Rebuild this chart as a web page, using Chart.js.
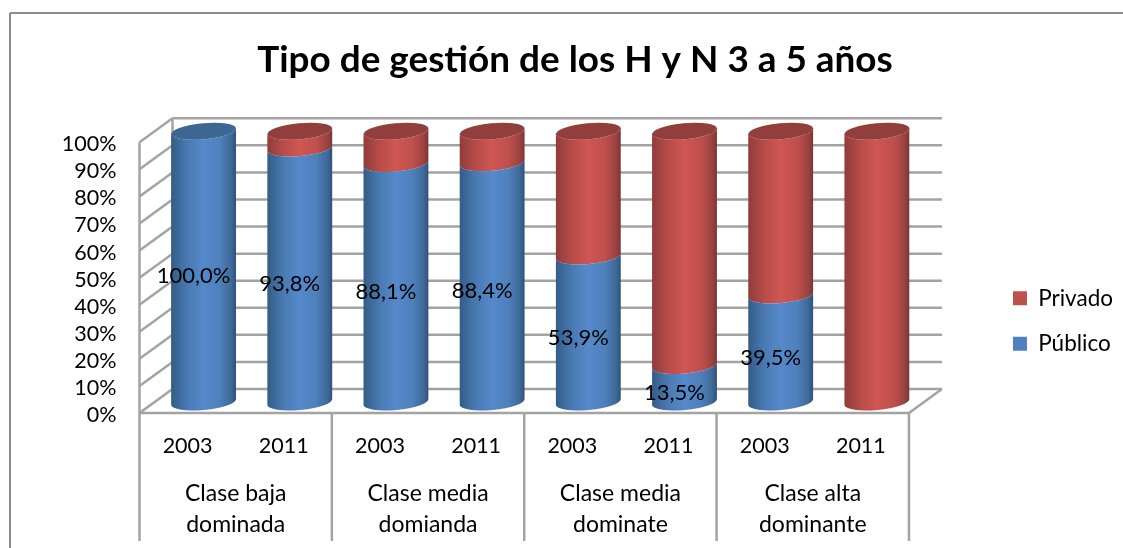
<!DOCTYPE html>
<html>
<head>
<meta charset="utf-8">
<title>Tipo de gestión</title>
<script src="https://cdn.jsdelivr.net/npm/chart.js@4/dist/chart.umd.js"></script>
<style>
  html, body { margin: 0; background: #fff; }
  canvas { display: block; }
</style>
</head>
<body>
<canvas id="chart" width="1123" height="548"></canvas>
<script>
const years = ['2003', '2011', '2003', '2011', '2003', '2011', '2003', '2011'];
const groups = [['Clase baja', 'dominada'], ['Clase media', 'domianda'], ['Clase media', 'dominate'], ['Clase alta', 'dominante']];
const publico = [100, 93.8, 88.1, 88.4, 53.9, 13.5, 39.5, 0];
const privado = [0, 6.2, 11.9, 11.6, 46.1, 86.5, 60.5, 100];

const BLUE = '#4f81bd';
const RED = '#c0504d';
const FONT = 'Lato';
const GREY = '#a3a3a3';

// cylinder shading, by series colour
const shades = {
  [BLUE]: { stops: ['#335c87', '#4a7ab3', '#5589cb', '#4f80bb', '#3f6a99', '#2f5278'], cap: '#3d6692' },
  [RED]: { stops: ['#8f3c3a', '#b84c49', '#cf5653', '#c0504d', '#9c4341', '#7a3533'], cap: '#913e3c' },
};
const stopAt = [0, 0.25, 0.5, 0.75, 0.92, 1];

const TILT = -0.09;  // the ellipses lean up to the right
const RY = 8;

// 3D box offsets from the value scale, in px
const BACK = { x: 17, y: -13 };
const FRONT = { x: -16, y: 11 };

class CylinderElement extends Chart.BarElement {
  static id = 'cylinder';

  draw(ctx) {
    const { x, y, base, width, options } = this.getProps(['x', 'y', 'base', 'width', 'options']);
    if (Math.abs(base - y) < 0.5) return;
    const rx = width / 2;
    const shade = shades[options.backgroundColor];
    const grad = ctx.createLinearGradient(x - rx, 0, x + rx, 0);
    stopAt.forEach((p, i) => grad.addColorStop(p, shade.stops[i]));

    ctx.save();
    ctx.beginPath();
    ctx.ellipse(x, y, rx, RY, TILT, Math.PI, 0, true);
    ctx.ellipse(x, base, rx, RY, TILT, 0, Math.PI, false);
    ctx.closePath();
    ctx.fillStyle = grad;
    ctx.fill();
    ctx.restore();
  }
}

class CylinderController extends Chart.BarController {
  static id = 'cylinder';
  static defaults = { ...Chart.BarController.defaults, dataElementType: 'cylinder' };
}

Chart.register(CylinderElement, CylinderController);

const line = (ctx, x1, y1, x2, y2) => {
  ctx.beginPath();
  ctx.moveTo(x1, y1);
  ctx.lineTo(x2, y2);
  ctx.stroke();
};

// outer frame, walls, floor and the dividers of the group axis
const boxPlugin = {
  id: 'box',
  afterLayout(chart) {
    // the legend sits lower than Chart.js would centre it
    chart.legend.top += 47;
    chart.legend.bottom += 47;
  },
  beforeDatasetsDraw(chart) {
    const { ctx, chartArea, scales } = chart;
    const { left, right } = chartArea;
    const y = scales.y;
    const fl = left + FRONT.x, fr = right + FRONT.x;
    const bl = left + BACK.x, br = right + BACK.x;
    ctx.save();

    ctx.strokeStyle = '#8c8c8c';
    ctx.lineWidth = 2;
    line(ctx, 10, 548, 10, 13);
    line(ctx, 10, 13, 1123, 13);

    ctx.strokeStyle = GREY;
    ctx.lineWidth = 2.5;
    y.ticks.forEach(t => {
      const py = y.getPixelForValue(t.value);
      line(ctx, fl, py + FRONT.y, bl, py + BACK.y);
      line(ctx, bl, py + BACK.y, br, py + BACK.y);
    });
    const y0 = y.getPixelForValue(0), y100 = y.getPixelForValue(100);
    line(ctx, fl, y100 + FRONT.y, fl, y0 + FRONT.y);
    line(ctx, bl, y100 + BACK.y, bl, y0 + BACK.y);
    line(ctx, fl, y0 + FRONT.y, fr, y0 + FRONT.y);
    line(ctx, fr, y0 + FRONT.y, br, y0 + BACK.y);

    const step = (right - left) / groups.length;
    for (let i = 0; i <= groups.length; i++) {
      const px = fl + i * step;
      line(ctx, px, y0 + FRONT.y, px, 541);
    }
    ctx.restore();
  },
  afterDatasetsDraw(chart) {
    const { ctx, data } = chart;
    ctx.save();
    // top of each cylinder, coloured by the last series that has height there
    years.forEach((_, i) => {
      for (let d = data.datasets.length - 1; d >= 0; d--) {
        const el = chart.getDatasetMeta(d).data[i];
        if (Math.abs(el.base - el.y) < 0.5) continue;
        ctx.fillStyle = shades[el.options.backgroundColor].cap;
        ctx.beginPath();
        ctx.ellipse(el.x, el.y, el.width / 2, RY, TILT, 0, Math.PI * 2);
        ctx.fill();
        break;
      }
    });

    // value labels of the Público series
    ctx.fillStyle = '#000';
    ctx.font = '22px ' + FONT;
    ctx.textAlign = 'center';
    ctx.textBaseline = 'middle';
    chart.getDatasetMeta(0).data.forEach((el, i) => {
      if (!publico[i]) return;
      const label = publico[i].toFixed(1).replace('.', ',') + '%';
      ctx.fillText(label, el.x - 10, (el.y + el.base) / 2 + 9);
    });
    ctx.restore();
  },
};

new Chart('chart', {
  type: 'cylinder',
  data: {
    labels: years,
    datasets: [
      { label: 'Público', data: publico, backgroundColor: BLUE, categoryPercentage: 1, barPercentage: 0.677, clip: false },
      { label: 'Privado', data: privado, backgroundColor: RED, categoryPercentage: 1, barPercentage: 0.677, clip: false },
    ],
  },
  plugins: [boxPlugin],
  options: {
    responsive: false,
    animation: false,
    layout: { autoPadding: false, padding: { left: 27, right: 0, top: 0, bottom: 0 } },
    scales: {
      x: {
        stacked: true,
        grid: { display: false },
        border: { display: false },
        afterFit(s) { s.height = 60; },
        ticks: { color: '#000', font: { family: FONT, size: 21.5 }, padding: 23, labelOffset: FRONT.x, maxRotation: 0, autoSkip: false },
      },
      x2: {
        type: 'category',
        labels: groups,
        position: 'bottom',
        grid: { display: false },
        border: { display: false },
        afterFit(s) { s.height = 86; },
        ticks: { color: '#000', font: { family: FONT, size: 23, lineHeight: 1.35 }, padding: 8, labelOffset: FRONT.x, maxRotation: 0, autoSkip: false },
      },
      y: {
        stacked: true,
        min: 0,
        max: 100,
        grid: { display: false },
        border: { display: false },
        afterFit(s) { s.width = 128.5; },
        ticks: {
          stepSize: 10,
          autoSkip: false,
          color: '#000',
          font: { family: FONT, size: 21.5 },
          padding: 31,
          labelOffset: 13,
          callback: v => v + '%',
        },
      },
      spacer: {
        position: 'right',
        grid: { display: false },
        border: { display: false },
        ticks: { display: false },
        afterFit(s) { s.width = 65; },
      },
    },
    plugins: {
      tooltip: { enabled: false },
      title: {
        display: true,
        text: 'Tipo de gestión de los H y N 3 a 5 años',
        color: '#000',
        font: { family: FONT, size: 36.9, weight: 'bold' },
        padding: { top: 38, bottom: 49 },
      },
      legend: {
        position: 'right',
        reverse: true,
        labels: { color: '#000', font: { family: FONT, size: 22.5 }, boxWidth: 14, boxHeight: 14, padding: 23 },
      },
    },
  },
});
</script>
</body>
</html>
